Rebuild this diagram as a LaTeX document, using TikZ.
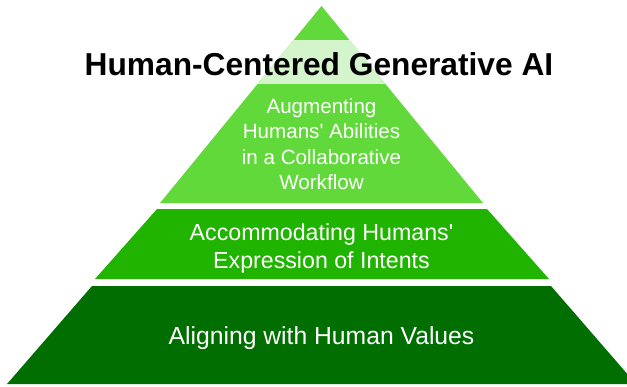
\documentclass[tikz,border=0pt]{standalone}
\usepackage{fontspec}
\setmainfont{Liberation Sans}
% no tex-text mapping here, so ' stays a straight quote
\newfontfamily\plainsans{Liberation Sans}
\usetikzlibrary{positioning}
\definecolor{tipgreen}{HTML}{62D93B}
\definecolor{bandgreen}{HTML}{D4F5CB}
\definecolor{midgreen}{HTML}{20B400}
\definecolor{basegreen}{HTML}{006E00}

\begin{document}
\begin{tikzpicture}[
  x=1pt, y=-1pt,
  layertext/.style={text=white,align=center,inner sep=0pt},
  headline/.style={text=black,inner sep=0pt,font=\bfseries\fontsize{31.7}{36}\selectfont}]
\useasboundingbox (0,0) rectangle (627,386);
\clip (0,0) rectangle (627,386);
% pyramid layers, top to bottom
\fill[tipgreen] (321.5,6) -- (483,203) -- (160,203) -- cycle;
\begin{scope}
  \clip (321.5,6) -- (483,203) -- (160,203) -- cycle;
  \fill[bandgreen] (150,40) rectangle (500,84);
\end{scope}
\fill[midgreen] (157,209) -- (487,209) -- (549,279) -- (95,279) -- cycle;
\fill[basegreen] (92,286) -- (551,286) -- (636,384) -- (7,384) -- cycle;
% layer labels
\node[layertext,font=\plainsans\fontsize{20.6}{25.5}\selectfont] (augment) at (321.5,144)
  {Augmenting\\Humans' Abilities\\in a Collaborative\\Workflow};
\node[layertext,font=\plainsans\fontsize{23.2}{28}\selectfont] (intent) at (321.5,248)
  {Accommodating Humans'\\Expression of Intents};
\node[layertext,font=\plainsans\fontsize{24.7}{30}\selectfont] (values) at (321.5,338)
  {Aligning with Human Values};
\node[headline] (title) at (319,64) {Human-Centered Generative AI};
\end{tikzpicture}
\end{document}
